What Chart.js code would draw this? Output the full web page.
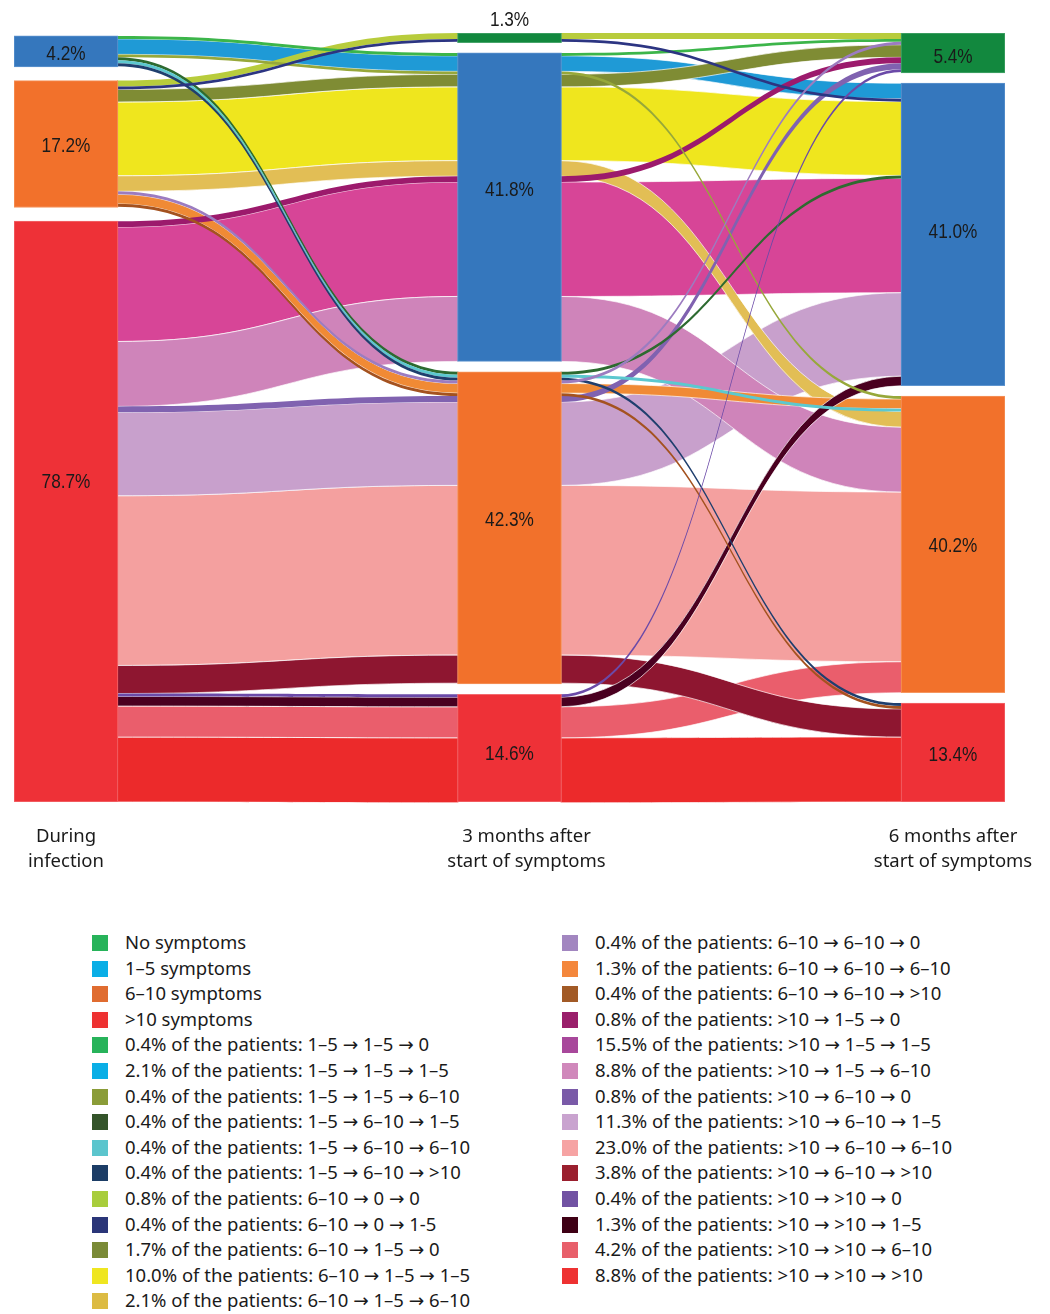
<!DOCTYPE html>
<html>
<head>
<meta charset="utf-8">
<script src="https://cdn.jsdelivr.net/npm/chart.js@4.4.1/dist/chart.umd.min.js"></script>
<style>
  html, body { margin: 0; padding: 0; background: #ffffff; }
  #wrap { position: relative; width: 1050px; height: 1314px; overflow: hidden; }
  #c { position: absolute; left: 0; top: 0; }
  .lg { position: absolute; font-family: "Noto Sans", "DejaVu Sans", sans-serif; font-size: 18.5px; line-height: 22px; color: #1a1a1a; white-space: nowrap; }
  .sw { position: absolute; width: 16px; height: 16px; }
</style>
</head>
<body>
<div id="wrap">
  <canvas id="c" width="1050" height="890"></canvas>
  <div id="legend"></div>
</div>
<script>
// ---------------- DATA ----------------
const columnLabels = [["During", "infection"], ["3 months after", "start of symptoms"], ["6 months after", "start of symptoms"]];
const stateNames = ["No symptoms", "1–5 symptoms", "6–10 symptoms", ">10 symptoms"];

// node sizes (% of patients) per time point, in state order [0, 1–5, 6–10, >10]
const col0Values = [0, 4.2, 17.2, 78.7];
const col1Values = [1.3, 41.8, 42.3, 14.6];
const col2Values = [5.4, 41.0, 40.2, 13.4];

// patient trajectories: state index at each time point
const flowPaths = [
  [1,1,0],[1,1,1],[1,1,2],[1,2,1],[1,2,2],[1,2,3],
  [2,0,0],[2,0,1],[2,1,0],[2,1,1],[2,1,2],[2,2,0],[2,2,2],[2,2,3],
  [3,1,0],[3,1,1],[3,1,2],[3,2,0],[3,2,1],[3,2,2],[3,2,3],[3,3,0],[3,3,1],[3,3,2],[3,3,3]
];
const flowValues = [0.4, 2.1, 0.4, 0.4, 0.4, 0.4, 0.8, 0.4, 1.7, 10.0, 2.1, 0.4, 1.3, 0.4,
                    0.8, 15.5, 8.8, 0.8, 11.3, 23.0, 3.8, 0.4, 1.3, 4.2, 8.8];
const flowLabels = [
  "1–5 → 1–5 → 0", "1–5 → 1–5 → 1–5", "1–5 → 1–5 → 6–10", "1–5 → 6–10 → 1–5", "1–5 → 6–10 → 6–10", "1–5 → 6–10 → >10",
  "6–10 → 0 → 0", "6–10 → 0 → 1-5", "6–10 → 1–5 → 0", "6–10 → 1–5 → 1–5", "6–10 → 1–5 → 6–10",
  "6–10 → 6–10 → 0", "6–10 → 6–10 → 6–10", "6–10 → 6–10 → >10",
  ">10 → 1–5 → 0", ">10 → 1–5 → 1–5", ">10 → 1–5 → 6–10", ">10 → 6–10 → 0", ">10 → 6–10 → 1–5",
  ">10 → 6–10 → 6–10", ">10 → 6–10 → >10", ">10 → >10 → 0", ">10 → >10 → 1–5", ">10 → >10 → 6–10", ">10 → >10 → >10"
];
// stacking order of trajectories inside each node at 6 months (as in the figure)
const col2Order = [[6,0,11,8,14,17,21],[1,7,9,3,15,18,22],[2,12,4,10,16,19,23],[5,13,20,24]];

// ---------------- STYLE ----------------
const nodeColors = ['#12883e', '#3577bd', '#f2712b', '#ee3137'];
const nodeBorders = ['#47a56b', '#5f95cf', '#f5965f', '#f26a6e'];
const stateLegendColors = ['#27b35a', '#0aaee6', '#e06c30', '#ee3232'];
const flowColors = ['#3cb54a','#1f9ad6','#97a83a','#2d6a30','#5cc8cf','#1f3f6e',
  '#b8cc3c','#2c3582','#7f8c34','#efe61e','#e2be55','#9c7cc0','#f08a35','#a4521f',
  '#9c1a6c','#d74597','#cf84ba','#8062b0','#c8a0cc','#f4a09f','#8e1630','#6b4aa8','#4a0020','#ea5e6c','#ec2a2b'];
const flowLegendColors = ['#27b35a','#0aaee6','#8a9c38','#34542a','#5bc5cd','#1c3d66',
  '#a8cd3c','#2a3578','#7a8a36','#efe620','#dcbb43','#a286c0','#f4873c','#a25a26',
  '#9a1f6b','#a8479b','#d088bb','#7a5aa8','#c9a3cf','#f6a3a3','#9a1f2e','#7152a3','#3f0015','#e85f6a','#ee3232'];

// ---------------- LAYOUT ----------------
const Y_MAX = 104.2;            // value span of the plot (100 % + spacing between nodes)
const COL_START = [0.4, 0, 0];  // where the first node of each column starts
const HALF_BAR = 52;            // half of the bar thickness in px
const labelShift = [[0, 3, 2, -29], [0, -17, -8, 6], [4, -2, 2, 3]];
const columnLabelShift = [0, 17, 0];

const columns = [col0Values, col1Values, col2Values];
function nodeTops(vals, c) {
  const present = vals.filter(v => v > 0);
  const sum = present.reduce((a, b) => a + b, 0);
  const gap = (Y_MAX - COL_START[c] - sum) / (present.length - 1);
  const tops = [];
  let cur = COL_START[c];
  vals.forEach((v, i) => { if (v > 0) { tops[i] = cur; cur += v + gap; } else tops[i] = null; });
  return tops;
}
const tops = columns.map(nodeTops);

function flowPositions() {
  const pos = flowValues.map(() => [null, null, null]);
  for (let c = 0; c < 2; c++) {
    const cursor = tops[c].slice();
    flowPaths.forEach((p, i) => {
      const n = p[c];
      pos[i][c] = [cursor[n], cursor[n] + flowValues[i]];
      cursor[n] += flowValues[i];
    });
  }
  col2Order.forEach((list, n) => {
    let cur = tops[2][n];
    list.forEach(i => { pos[i][2] = [cur, cur + flowValues[i]]; cur += flowValues[i]; });
  });
  return pos;
}

// node datasets (floating bars)
const datasets = stateNames.map((name, s) => ({
  label: name,
  data: columns.map((vals, c) => vals[s] > 0 ? { x: c, y: [tops[c][s], tops[c][s] + vals[s]] } : null).filter(Boolean),
  backgroundColor: nodeColors[s],
  borderColor: nodeBorders[s],
  borderWidth: 1,
  borderSkipped: false,
  barThickness: HALF_BAR * 2,
  grouped: false
}));

const flowPlugin = {
  id: 'flows',
  beforeDatasetsDraw(chart) {
    const { ctx, scales: { x, y } } = chart;
    const pos = flowPositions();
    const order = flowValues.map((v, i) => i).sort((a, b) => (flowValues[b] - flowValues[a]) || (a - b));
    ctx.save();
    ctx.lineWidth = 0.8;
    ctx.strokeStyle = 'rgba(255,255,255,0.85)';
    order.forEach(i => {
      ctx.fillStyle = flowColors[i];
      for (let s = 0; s < 2; s++) {
        const xa = x.getPixelForValue(s) + HALF_BAR - 1;
        const xb = x.getPixelForValue(s + 1) - HALF_BAR + 1;
        const xm = (xa + xb) / 2;
        const a0 = y.getPixelForValue(pos[i][s][0]), a1 = y.getPixelForValue(pos[i][s][1]);
        const b0 = y.getPixelForValue(pos[i][s + 1][0]), b1 = y.getPixelForValue(pos[i][s + 1][1]);
        ctx.beginPath();
        ctx.moveTo(xa, a0);
        ctx.bezierCurveTo(xm, a0, xm, b0, xb, b0);
        ctx.lineTo(xb, b1);
        ctx.bezierCurveTo(xm, b1, xm, a1, xa, a1);
        ctx.closePath();
        ctx.fill();
        if (flowValues[i] >= 1) ctx.stroke();
      }
    });
    ctx.restore();
  },
  afterDatasetsDraw(chart) {
    const { ctx, scales: { x, y } } = chart;
    ctx.save();
    ctx.fillStyle = '#1a1a1a';
    ctx.textAlign = 'center';
    ctx.textBaseline = 'middle';
    ctx.font = '21px "Liberation Sans", Arial, sans-serif';
    const squeeze = 0.82;
    columns.forEach((vals, c) => {
      vals.forEach((v, s) => {
        if (!(v > 0)) return;
        const px = x.getPixelForValue(c);
        const yTop = y.getPixelForValue(tops[c][s]);
        const yBot = y.getPixelForValue(tops[c][s] + v);
        let py = (yTop + yBot) / 2 + labelShift[c][s];
        if (yBot - yTop < 20) py = yTop - 13;
        ctx.save();
        ctx.translate(px, py);
        ctx.scale(squeeze, 1);
        ctx.fillText(v.toFixed(1) + '%', 0, 0);
        ctx.restore();
      });
    });
    ctx.font = '18.5px "Noto Sans", sans-serif';
    const base = chart.chartArea.bottom;
    columnLabels.forEach((lines, c) => {
      const px = x.getPixelForValue(c) + columnLabelShift[c];
      lines.forEach((t, k) => ctx.fillText(t, px, base + 35 + k * 25));
    });
    ctx.restore();
  }
};

new Chart(document.getElementById('c'), {
  type: 'bar',
  data: { datasets },
  options: {
    responsive: false,
    animation: false,
    events: [],
    layout: { padding: { left: 14, right: 45, top: 33, bottom: 88 } },
    scales: {
      x: { type: 'linear', min: -0.1172, max: 2.1172, offset: false, display: false },
      y: { type: 'linear', min: 0, max: Y_MAX, reverse: true, display: false }
    },
    plugins: { legend: { display: false }, tooltip: { enabled: false } }
  },
  plugins: [flowPlugin]
});

// ---------------- LEGEND (HTML, built from the same arrays) ----------------
const legendItems = stateNames.map((n, s) => ({ text: n, color: stateLegendColors[s] }))
  .concat(flowValues.map((v, i) => ({ text: v.toFixed(1) + '% of the patients: ' + flowLabels[i], color: flowLegendColors[i] })));
const legendEl = document.getElementById('legend');
legendItems.forEach((it, k) => {
  const col = k < 15 ? 0 : 1;
  const row = col === 0 ? k : k - 15;
  const cy = 943 + row * 25.6;
  const sx = col === 0 ? 92 : 562;
  const tx = col === 0 ? 125 : 595;
  const sw = document.createElement('div');
  sw.className = 'sw';
  sw.style.left = sx + 'px';
  sw.style.top = (cy - 8) + 'px';
  sw.style.background = it.color;
  const tl = document.createElement('div');
  tl.className = 'lg';
  tl.style.left = tx + 'px';
  tl.style.top = (cy - 12) + 'px';
  tl.textContent = it.text;
  legendEl.appendChild(sw);
  legendEl.appendChild(tl);
});
</script>
</body>
</html>
